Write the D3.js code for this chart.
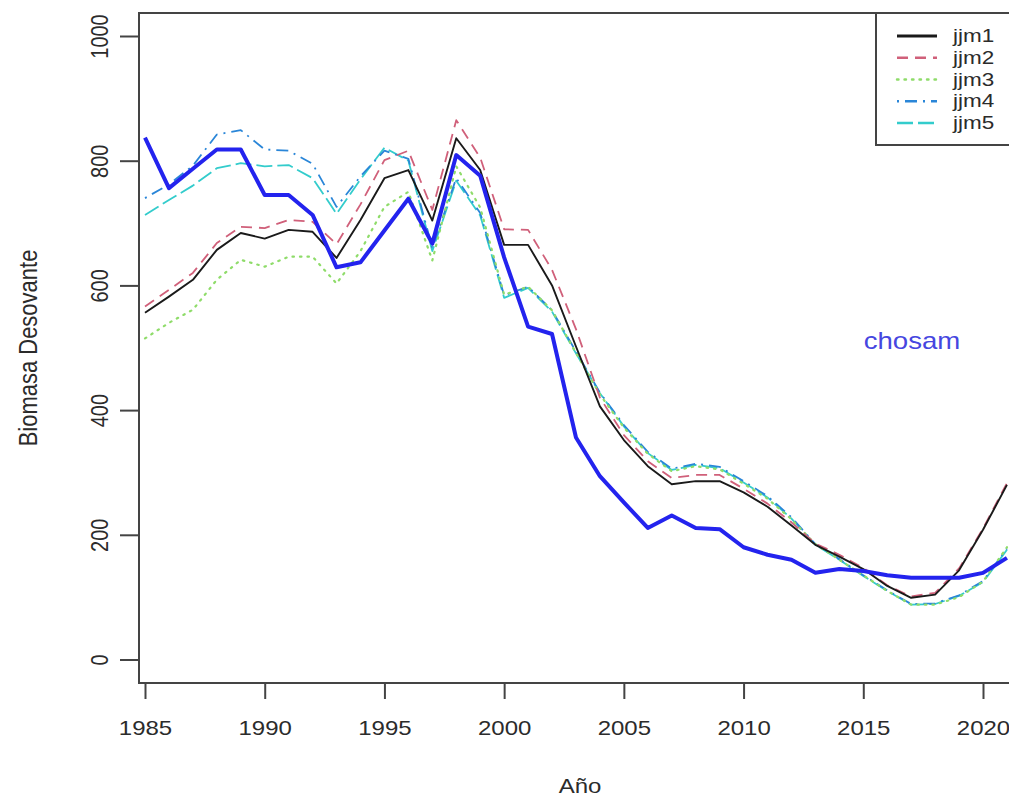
<!DOCTYPE html>
<html>
<head>
<meta charset="utf-8">
<script src="https://cdn.jsdelivr.net/npm/d3@7"></script>
<style>
  html, body { margin: 0; padding: 0; background: #fff; }
  svg { display: block; font-family: "Liberation Sans", Arial, sans-serif; }
</style>
</head>
<body>
<svg id="chart" width="1009" height="797"></svg>
<script>
// Spawning biomass by assessment model run, 1985-2021
const years = d3.range(1985, 2022);

const jjm1 = [556, 582, 609, 657, 684, 675, 689, 686, 644, 705, 772, 785, 704, 836, 785, 665, 665, 600, 502, 406,
              352, 310, 281, 286, 286, 268, 245, 215, 184, 165, 145, 118, 99, 104, 143, 208, 280];
const jjm2 = [566, 593, 620, 668, 694, 692, 705, 702, 666, 730, 801, 816, 721, 865, 805, 690, 689, 625, 530, 420,
              360, 318, 291, 296, 296, 274, 250, 220, 186, 168, 147, 119, 101, 107, 146, 210, 283];
const jjm3 = [515, 540, 561, 609, 641, 630, 646, 646, 603, 655, 726, 750, 640, 791, 725, 585, 598, 560, 492, 425,
              372, 330, 302, 310, 305, 282, 258, 225, 185, 160, 135, 110, 88, 88, 100, 125, 180];
const jjm4 = [740, 762, 792, 842, 849, 818, 816, 795, 726, 775, 816, 803, 660, 772, 716, 584, 598, 560, 494, 428,
              376, 333, 306, 314, 309, 286, 262, 228, 185, 161, 135, 111, 89, 90, 103, 126, 178];
const jjm5 = [713, 737, 760, 788, 796, 791, 793, 772, 715, 770, 821, 800, 655, 768, 712, 580, 596, 558, 491, 427,
              374, 331, 304, 312, 307, 284, 260, 226, 184, 160, 134, 110, 88, 89, 102, 124, 176];
const chosam = [837, 756, 787, 818, 818, 745, 745, 713, 629, 637, 688, 739, 667, 809, 776, 645, 534, 522, 356, 294,
                252, 211, 231, 211, 209, 180, 168, 160, 139, 145, 142, 135, 131, 131, 131, 139, 163];

const xTicks = [1985, 1990, 1995, 2000, 2005, 2010, 2015, 2020];
const yTicks = [0, 200, 400, 600, 800, 1000];
const legendLabels = ["jjm1", "jjm2", "jjm3", "jjm4", "jjm5"];

// Styling per series
const seriesStyle = {
  jjm1: { color: "#1a1a1a", width: 1.9, dash: null },
  jjm2: { color: "#d0607a", width: 1.8, dash: "11,7" },
  jjm3: { color: "#8fdc6a", width: 2.2, dash: "1.5,6" },
  jjm4: { color: "#2a86d8", width: 1.8, dash: "2,6,12,6" },
  jjm5: { color: "#33cccc", width: 1.8, dash: "16,5" }
};
const seriesData = { jjm1, jjm2, jjm3, jjm4, jjm5 };

const svg = d3.select("#chart");
const frame = { left: 139, right: 1014, top: 13, bottom: 683 };

const x = d3.scaleLinear().domain([1985, 2020]).range([145, 983]);
const y = d3.scaleLinear().domain([0, 1000]).range([659.5, 36]);

svg.append("defs").append("clipPath").attr("id", "plotClip")
  .append("rect")
  .attr("x", frame.left).attr("y", frame.top)
  .attr("width", frame.right - frame.left).attr("height", frame.bottom - frame.top);

const line = d3.line().x((d, i) => x(years[i])).y(d => y(d));

const plot = svg.append("g").attr("clip-path", "url(#plotClip)");

// Model runs, drawn beneath the reference series
["jjm5", "jjm4", "jjm3", "jjm2", "jjm1"].forEach(k => {
  const s = seriesStyle[k];
  plot.append("path")
    .datum(seriesData[k])
    .attr("d", line)
    .attr("fill", "none")
    .attr("stroke", s.color)
    .attr("stroke-width", s.width)
    .attr("stroke-dasharray", s.dash)
    .attr("stroke-linecap", k === "jjm3" ? "round" : "butt")
    .attr("stroke-linejoin", "round");
});

plot.append("path")
  .datum(chosam)
  .attr("d", line)
  .attr("fill", "none")
  .attr("stroke", "#2323ee")
  .attr("stroke-width", 4)
  .attr("stroke-linejoin", "round");

// Plot frame
svg.append("rect")
  .attr("x", frame.left).attr("y", frame.top)
  .attr("width", frame.right - frame.left).attr("height", frame.bottom - frame.top)
  .attr("fill", "none").attr("stroke", "#444").attr("stroke-width", 2);

const textColor = "#2b2b2b";

// Y axis
const yAxis = svg.append("g")
  .attr("transform", `translate(${frame.left},0)`)
  .call(d3.axisLeft(y).tickValues(yTicks).tickSize(19).tickPadding(0).tickFormat(d3.format("d")));
yAxis.select(".domain").remove();
yAxis.selectAll(".tick line").attr("stroke", "#444").attr("stroke-width", 2);
yAxis.selectAll(".tick text")
  .attr("x", null).attr("dy", null)
  .attr("text-anchor", "middle")
  .attr("transform", "translate(-39,0) rotate(-90) scale(1,1.2)")
  .attr("y", 0)
  .attr("dominant-baseline", "central")
  .attr("fill", textColor)
  .style("font-size", "20px");

// X axis
const xAxis = svg.append("g")
  .attr("transform", `translate(0,${frame.bottom})`)
  .call(d3.axisBottom(x).tickValues(xTicks).tickSize(16).tickPadding(0).tickFormat(d3.format("d")));
xAxis.select(".domain").remove();
xAxis.selectAll(".tick line").attr("stroke", "#444").attr("stroke-width", 2);
xAxis.selectAll(".tick text")
  .attr("y", null).attr("dy", null)
  .attr("transform", "translate(0,52) scale(1.2,1)")
  .attr("fill", textColor)
  .style("font-size", "20px");

// Axis titles
svg.append("text")
  .attr("transform", "translate(28,348) rotate(-90) scale(1,1.15)")
  .attr("text-anchor", "middle")
  .attr("dominant-baseline", "central")
  .attr("fill", textColor)
  .style("font-size", "22px")
  .text("Biomasa Desovante");

svg.append("text")
  .attr("transform", "translate(580,793) scale(1.2,1)")
  .attr("text-anchor", "middle")
  .attr("fill", textColor)
  .style("font-size", "20px")
  .text("Año");

// Series label
svg.append("text")
  .attr("transform", "translate(912,349) scale(1.2,1)")
  .attr("text-anchor", "middle")
  .attr("fill", "#4646e0")
  .style("font-size", "23px")
  .text("chosam");

// Legend
const legend = svg.append("g");
legend.append("rect")
  .attr("x", 876).attr("y", frame.top)
  .attr("width", frame.right - 876).attr("height", 145 - frame.top)
  .attr("fill", "#fff").attr("stroke", "#444").attr("stroke-width", 2);

const legendY = d3.scalePoint().domain(legendLabels).range([36, 123]);
legendLabels.forEach(k => {
  const s = seriesStyle[k];
  const yy = legendY(k);
  legend.append("line")
    .attr("x1", 897).attr("x2", 937).attr("y1", yy).attr("y2", yy)
    .attr("stroke", s.color)
    .attr("stroke-width", k === "jjm1" ? 3 : 2.4)
    .attr("stroke-dasharray", s.dash)
    .attr("stroke-linecap", k === "jjm3" ? "round" : "butt");
  legend.append("text")
    .attr("transform", `translate(953,${yy}) scale(1.25,1)`)
    .attr("dominant-baseline", "central")
    .attr("fill", textColor)
    .style("font-size", "18px")
    .text(k);
});
</script>
</body>
</html>
